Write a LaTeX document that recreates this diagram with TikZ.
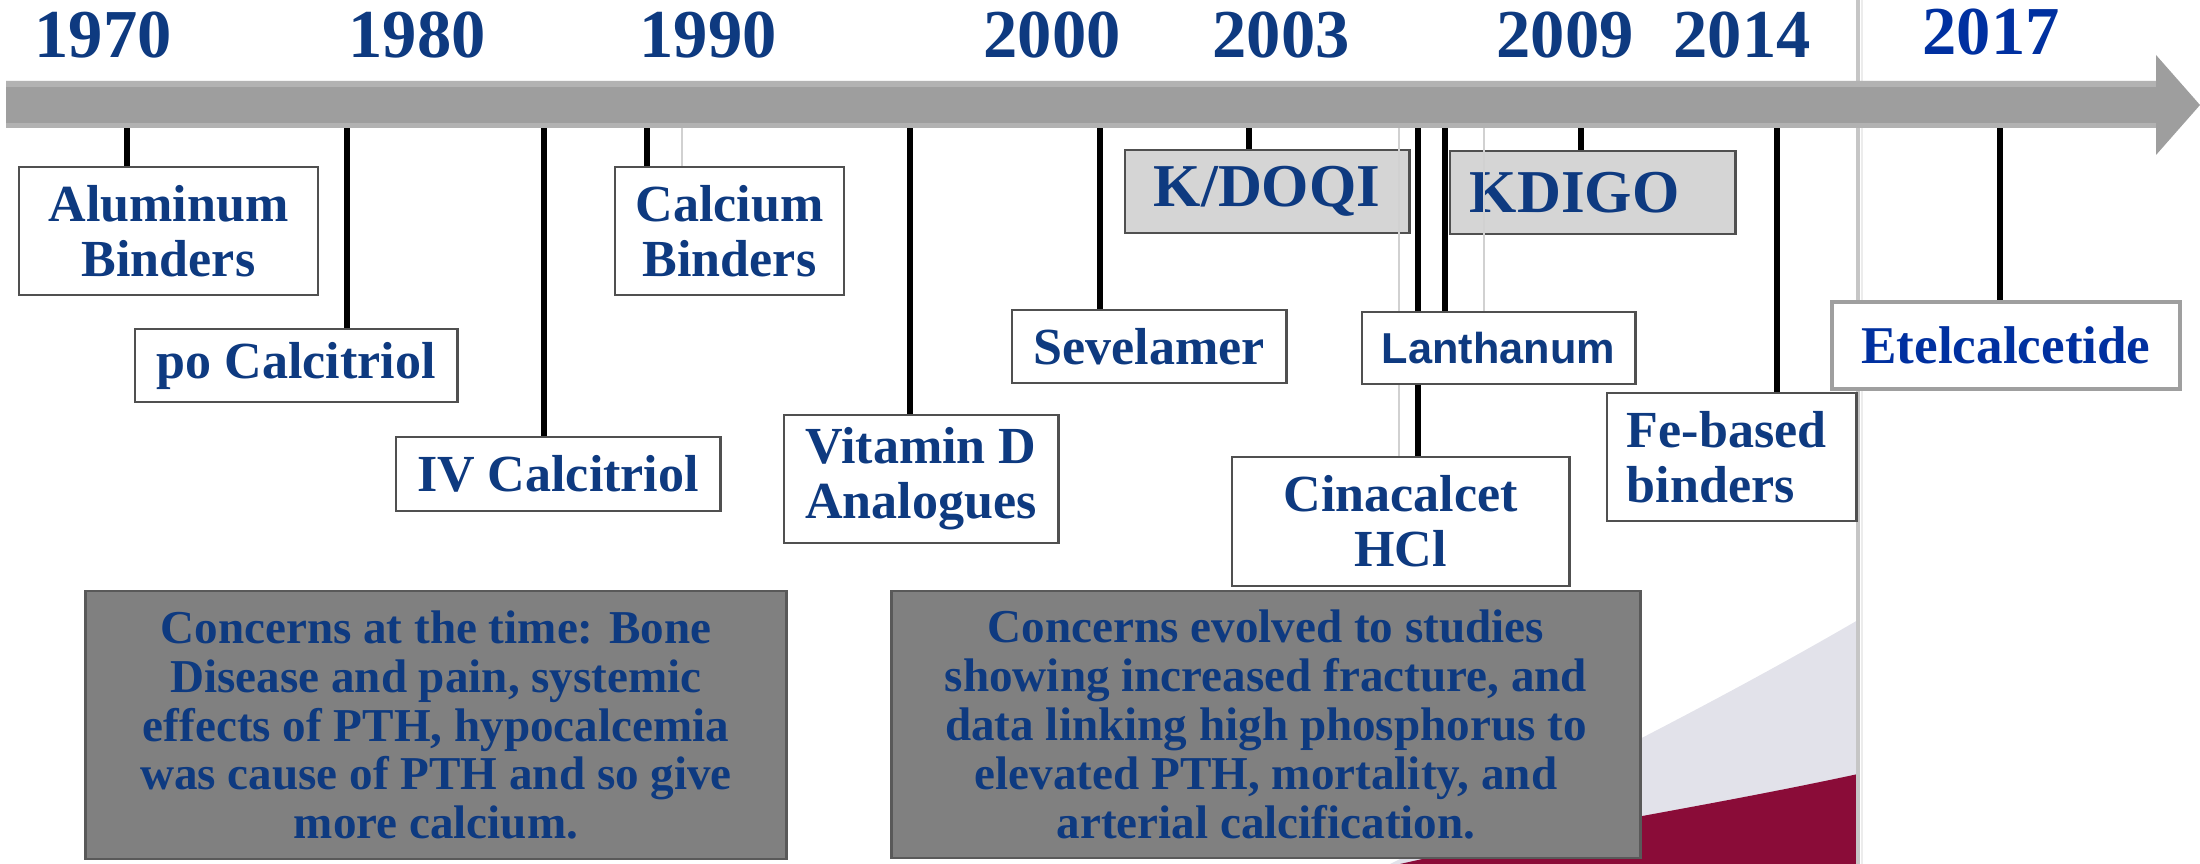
\documentclass[tikz,border=0pt]{standalone}
\usepackage{fontspec}
\setmainfont{Liberation Serif}
\newfontfamily\lanfont{Liberation Sans}
\usepackage{xcolor}

\definecolor{navy}{RGB}{14,58,128}
\definecolor{royal}{RGB}{0,48,160}
\definecolor{barfill}{RGB}{158,158,158}
\definecolor{barlight}{RGB}{178,178,178}
\definecolor{boxedge}{RGB}{80,80,80}
\definecolor{concernfill}{RGB}{128,128,128}
\definecolor{swooshgray}{RGB}{226,226,234}
\definecolor{swooshred}{RGB}{138,12,56}

\tikzset{
	yearlbl/.style={anchor=base, inner sep=0, text=navy, font=\fontsize{19.5}{20}\selectfont\bfseries},
	drugbox/.style={draw=boxedge, line width=0.8pt, fill=white, align=center, inner sep=0, text=navy, font=\fontsize{14.8}{15.65}\selectfont\bfseries},
	guidebox/.style={drugbox, fill=gray!33, font=\fontsize{17.3}{18}\selectfont\bfseries},
	concernbox/.style={draw=black!65, line width=0.8pt, fill=concernfill, align=center, inner sep=0, text=navy, font=\fontsize{13.4}{13.9}\selectfont\bfseries},
	tickline/.style={line width=1.8pt, black},
	ghostline/.style={line width=0.6pt, black!18}
	}

\begin{document}
\begin{tikzpicture}[x=0.01cm, y=-0.01cm]

	\useasboundingbox (0,0) rectangle (2200,864);

	% slide background swoosh
	\fill[swooshgray] (1390,864) .. controls (1520,800) and (1700,712) .. (1858,620) -- (1858,864) -- cycle;
	\fill[swooshred] (1400,864) .. controls (1550,830) and (1700,808) .. (1858,774) -- (1858,864) -- cycle;
	% slide edge
	\draw[line width=1.2pt, gray!45] (1858,0) -- (1858,864);
	\draw[line width=0.8pt, gray!15] (1862,0) -- (1862,864);

	% year labels
	\node[yearlbl] (y1970) at (103,58) {1970};
	\node[yearlbl] (y1980) at (417,58) {1980};
	\node[yearlbl] (y1990) at (708,58) {1990};
	\node[yearlbl] (y2000) at (1052,58) {2000};
	\node[yearlbl] (y2003) at (1281,58) {2003};
	\node[yearlbl] (y2009) at (1565,58) {2009};
	\node[yearlbl] (y2014) at (1742,58) {2014};
	\node[yearlbl, text=royal] (y2017) at (1991,55) {2017};

	% drug and guideline boxes
	\node[drugbox, minimum width=2.99cm, minimum height=1.28cm] (alu) at (168.5,231) {Aluminum\\Binders};
	\node[drugbox, minimum width=3.22cm, minimum height=0.73cm] (pocal) at (296,365.5) {po Calcitriol};
	\node[drugbox, minimum width=3.24cm, minimum height=0.74cm] (ivcal) at (558,474) {IV Calcitriol};
	\node[drugbox, minimum width=2.29cm, minimum height=1.28cm] (cabind) at (729.5,231) {Calcium\\Binders};
	\node[drugbox, minimum width=2.74cm, minimum height=1.28cm] (vitd) at (921,479) {Vitamin D\\Analogues};
	\node[drugbox, minimum width=2.74cm, minimum height=0.73cm] (sev) at (1149,346.5) {Sevelamer};
	\node[guidebox, minimum width=2.84cm, minimum height=0.83cm] (kdoqi) at (1267,191.5) {K/DOQI};
	\node[guidebox, minimum width=2.85cm, minimum height=0.83cm, text width=2.45cm, align=left] (kdigo) at (1592.5,192.5) {KDIGO};
	\node[drugbox, minimum width=3.37cm, minimum height=1.29cm] (cina) at (1400.5,521.5) {Cinacalcet\\HCl};
	\node[drugbox, minimum width=2.49cm, minimum height=1.28cm, text width=2.09cm, align=left] (fe) at (1731.5,457) {Fe-based\\binders};
	\node[drugbox, draw=gray!75, line width=1.3pt, text=royal, font=\fontsize{15.1}{16}\selectfont\bfseries, minimum width=3.48cm, minimum height=0.87cm] (etel) at (2006,345.5) {Etelcalcetide};

	% ticks on the bar
	\coordinate (alutick) at (127,105);
	\coordinate (poctick) at (347,105);
	\coordinate (ivctick) at (544,105);
	\coordinate (cabtick) at (647,105);
	\coordinate (vitdtick) at (910,105);
	\coordinate (sevtick) at (1100,105);
	\coordinate (kdoqitick) at (1249,105);
	\coordinate (cinatick) at (1418,105);
	\coordinate (lantick) at (1445,105);
	\coordinate (kdigotick) at (1581,105);
	\coordinate (fetick) at (1777,105);
	\coordinate (eteltick) at (2000,105);

	% faint traces
	\draw[ghostline] (682,105) -- (682,105 |- cabind.north);
	\draw[ghostline] (1399,105) -- (1399,105 |- cina.north);
	\draw[ghostline] (1484,105) -- (1484,312);

	\draw[tickline] (alutick) -- (alutick |- alu.north);
	\draw[tickline] (poctick) -- (poctick |- pocal.north);
	\draw[tickline] (ivctick) -- (ivctick |- ivcal.north);
	\draw[tickline] (cabtick) -- (cabtick |- cabind.north);
	\draw[tickline] (vitdtick) -- (vitdtick |- vitd.north);
	\draw[tickline] (sevtick) -- (sevtick |- sev.north);
	\draw[tickline] (kdoqitick) -- (kdoqitick |- kdoqi.north);
	\draw[tickline] (cinatick) -- (cinatick |- cina.north);
	\draw[tickline] (lantick) -- (lantick |- 0,312);
	\draw[tickline] (kdigotick) -- (kdigotick |- kdigo.north);
	\draw[tickline] (fetick) -- (fetick |- fe.north);
	\draw[tickline] (eteltick) -- (eteltick |- etel.north);

	% lanthanum sits over the cinacalcet tick
	\node[drugbox, font=\lanfont\fontsize{12.3}{13}\selectfont\bfseries, minimum width=2.73cm, minimum height=0.72cm] (lan) at (1498.5,348) {Lanthanum};

	% time arrow
	\fill[barfill] (6,81) -- (2156,81) -- (2156,55) -- (2200,105) -- (2156,155) -- (2156,128) -- (6,128) -- cycle;
	\fill[barlight] (6,81) rectangle (2156,87);
	\fill[barlight] (6,123) rectangle (2156,128);

	% concerns
	\node[concernbox, minimum width=7.00cm, minimum height=2.68cm] (oldcon) at (436,725)
		{Concerns at the time: Bone\\Disease and pain, systemic\\effects of PTH, hypocalcemia\\was cause of PTH and so give\\more calcium.};
	\node[concernbox, minimum width=7.48cm, minimum height=2.67cm] (newcon) at (1266,724.5)
		{Concerns evolved to studies\\showing increased fracture, and\\data linking high phosphorus to\\elevated PTH, mortality, and\\arterial calcification.};

\end{tikzpicture}
\end{document}
